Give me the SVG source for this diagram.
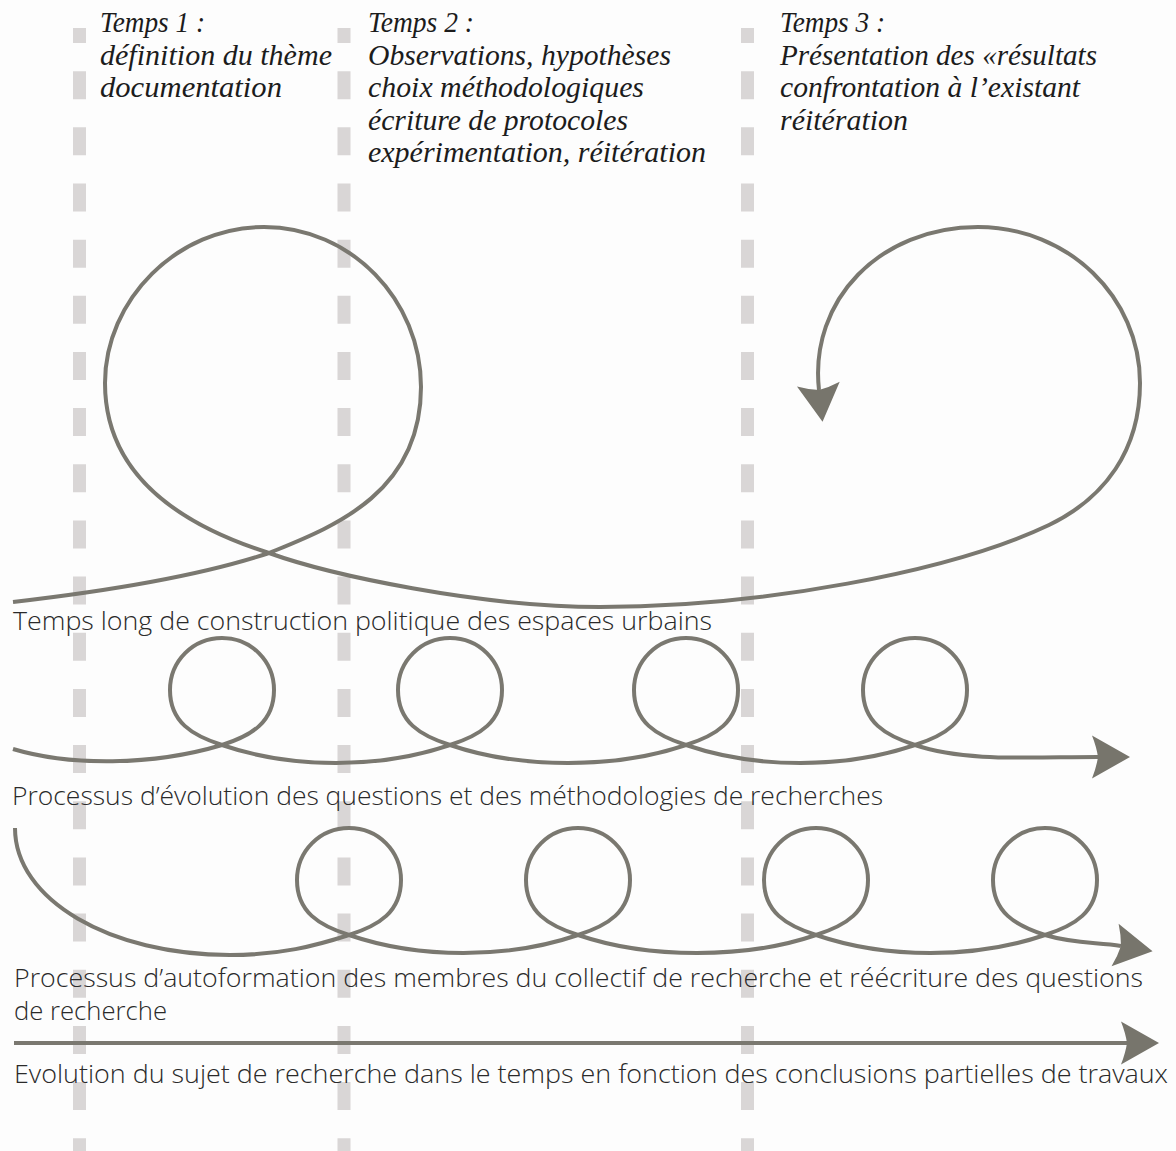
<svg xmlns="http://www.w3.org/2000/svg" width="1176" height="1151" viewBox="0 0 1176 1151">
<style>
.bg{fill:#fdfdfd}
.div{stroke:#d9d6d6;stroke-width:13;stroke-dasharray:28 28.16;stroke-dashoffset:13;fill:none}
.curve{fill:none;stroke:#7a7870;stroke-width:4;stroke-linecap:butt;stroke-linejoin:round}
.head{font-family:"Liberation Serif","DejaVu Serif",serif;font-style:italic;font-size:30px;fill:#1c1c1c}
.lab{font-family:"Open Sans","Noto Sans","Liberation Sans",sans-serif;font-weight:300;font-size:25px;fill:#2a2a2a}
</style>
<defs>
<marker id="arrow" markerUnits="userSpaceOnUse" viewBox="-10 -25 45 50" markerWidth="45" markerHeight="50" refX="0" refY="0" orient="auto" overflow="visible">
<path d="M32,0 L-6,-21.5 Q-1.5,-10 0,0 Q-1.5,10 -6,21.5 Z" fill="#77756c"/>
</marker>
</defs>
<rect class="bg" x="0" y="0" width="1176" height="1151"/>
<g id="dividers">
<line class="div" x1="79.5" y1="28" x2="79.5" y2="1151"/>
<line class="div" x1="344" y1="28" x2="344" y2="1151"/>
<line class="div" x1="747.5" y1="28" x2="747.5" y2="1151"/>
</g>
<g id="temps1">
<text class="head" x="100" y="32" textLength="105" lengthAdjust="spacingAndGlyphs">Temps 1 :</text>
<text class="head" x="100" y="64.5" textLength="232" lengthAdjust="spacingAndGlyphs">définition du thème</text>
<text class="head" x="100" y="97" textLength="182" lengthAdjust="spacingAndGlyphs">documentation</text>
</g>
<g id="temps2">
<text class="head" x="368" y="32" textLength="106" lengthAdjust="spacingAndGlyphs">Temps 2 :</text>
<text class="head" x="368" y="64.5" textLength="303" lengthAdjust="spacingAndGlyphs">Observations, hypothèses</text>
<text class="head" x="368" y="97" textLength="276" lengthAdjust="spacingAndGlyphs">choix méthodologiques</text>
<text class="head" x="368" y="129.5" textLength="260" lengthAdjust="spacingAndGlyphs">écriture de protocoles</text>
<text class="head" x="368" y="162" textLength="338" lengthAdjust="spacingAndGlyphs">expérimentation, réitération</text>
</g>
<g id="temps3">
<text class="head" x="780" y="32" textLength="105" lengthAdjust="spacingAndGlyphs">Temps 3 :</text>
<text class="head" x="780" y="64.5" textLength="317" lengthAdjust="spacingAndGlyphs">Présentation des «résultats</text>
<text class="head" x="780" y="97" textLength="300" lengthAdjust="spacingAndGlyphs">confrontation à l’existant</text>
<text class="head" x="780" y="129.5" textLength="128" lengthAdjust="spacingAndGlyphs">réitération</text>
</g>
<g id="connectors">
<path id="curve-long" class="curve" marker-end="url(#arrow)" d="M13,602 C100,592 200,576 269,553 C330,528 421,495 421,387 C421,300 351,227 264,227 C177,227 105,300 105,383 C105,465 165,520 269,553 C330,575 480,607 600,607 C760,607 950,572 1049,525 C1105,498 1140,450 1140,383 C1140,297 1068,227 978,227 C880,227 809,300 819,390"/>
<path id="curve-questions" class="curve" marker-end="url(#arrow)" d="M13,749 C70,766 152,766 222,745 C252,735.4 274,722 274,690 C274,661 251,638 222,638 C193,638 170,661 170,690 C170,722 192,735.4 222,745 C292,769 380,769 450,745 C480,735.4 502,722 502,690 C502,661 479,638 450,638 C421,638 398,661 398,690 C398,722 420,735.4 450,745 C520,769 616,769 686,745 C716,735.4 738,722 738,690 C738,661 715,638 686,638 C657,638 634,661 634,690 C634,722 656,735.4 686,745 C756,769 845,769 915,745 C945,735.4 967,722 967,690 C967,661 944,638 915,638 C886,638 863,661 863,690 C863,722 885,735.4 915,745 C965,762 1030,757 1098,757"/>
<path id="curve-autoformation" class="curve" marker-end="url(#arrow)" d="M15,828 C15,900 110,955 230,955 C280,955 315,946 349,935 C379,925.4 401,912 401,880 C401,851 378,828 349,828 C320,828 297,851 297,880 C297,912 319,925.4 349,935 C419,959 508,959 578,935 C608,925.4 630,912 630,880 C630,851 607,828 578,828 C549,828 526,851 526,880 C526,912 548,925.4 578,935 C648,959 746,959 816,935 C846,925.4 868,912 868,880 C868,851 845,828 816,828 C787,828 764,851 764,880 C764,912 786,925.4 816,935 C886,959 975,959 1045,935 C1075,925.4 1097,912 1097,880 C1097,851 1074,828 1045,828 C1016,828 993,851 993,880 C993,912 1015,925.4 1045,935 C1075,944 1097,942 1121,946"/>
<path id="line-evolution" class="curve" marker-end="url(#arrow)" d="M14,1043 L1127,1043"/>
</g>
<g id="label-long">
<text class="lab" x="13" y="630" textLength="699" lengthAdjust="spacingAndGlyphs">Temps long de construction politique des espaces urbains</text>
</g>
<g id="label-questions">
<text class="lab" x="12" y="805" textLength="871" lengthAdjust="spacingAndGlyphs">Processus d’évolution des questions et des méthodologies de recherches</text>
</g>
<g id="label-autoformation">
<text class="lab" x="14" y="987" textLength="1129" lengthAdjust="spacingAndGlyphs">Processus d’autoformation des membres du collectif de recherche et réécriture des questions</text>
<text class="lab" x="14" y="1020" textLength="153" lengthAdjust="spacingAndGlyphs">de recherche</text>
</g>
<g id="label-evolution">
<text class="lab" x="14" y="1083" textLength="1154" lengthAdjust="spacingAndGlyphs">Evolution du sujet de recherche dans le temps en fonction des conclusions partielles de travaux</text>
</g>
</svg>
